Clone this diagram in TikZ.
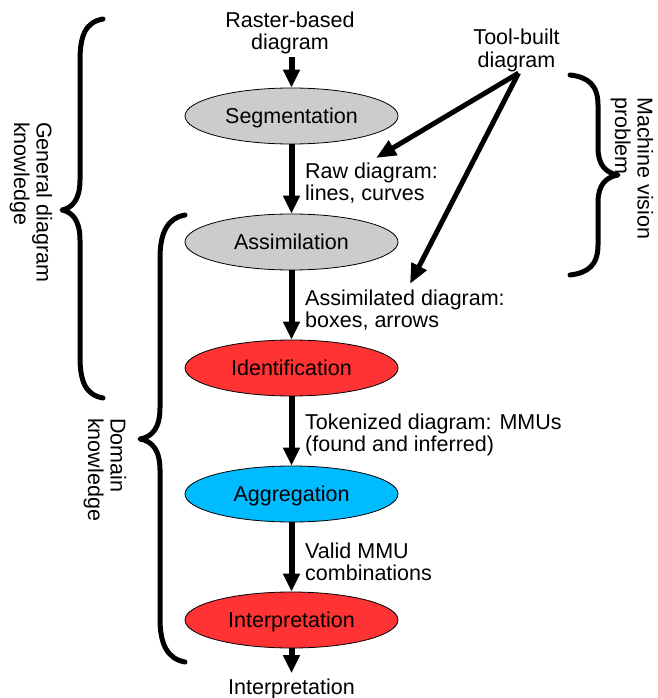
\documentclass[tikz,border=0pt]{standalone}
\usepackage{fontspec}
\setmainfont{Liberation Sans}
\usetikzlibrary{arrows.meta,shapes.geometric}
\definecolor{stagegray}{HTML}{CCCCCC}
\definecolor{stagered}{HTML}{FF3333}
\definecolor{stageblue}{HTML}{00BBFF}

\begin{document}
\begin{tikzpicture}[x=1pt,y=-1pt,
  every node/.style={font=\fontsize{21.5}{22.5}\selectfont, inner sep=0pt},
  stage/.style={ellipse, draw=black, line width=0.8pt,
    minimum width=213pt, minimum height=56pt, text height=15.5pt, text depth=0pt},
  flow/.style={line width=6pt, -{Triangle[width=16pt,length=18pt]}},
  feed/.style={line width=5pt, -{Triangle[width=16pt,length=20pt]}},
  note/.style={align=left, anchor=base west},
  sidelabel/.style={align=left, rotate=-90, anchor=base west},
  bracket/.style={line width=5pt, line cap=round, line join=round}
]
\useasboundingbox (0,0) rectangle (657,698);

% processing stages
\node[stage, fill=stagegray] (seg) at (291.5,116) {Segmentation};
\node[stage, fill=stagegray] (asm) at (291.5,242) {Assimilation};
\node[stage, fill=stagered]  (idf) at (291.5,368) {Identification};
\node[stage, fill=stageblue] (agg) at (291.5,494) {Aggregation};
\node[stage, fill=stagered]  (itp) at (291.5,620) {Interpretation};

% inputs and output (base anchor sits on the last line)
\node[align=center, anchor=base] (raster) at (290,50) {Raster-based\\diagram};
\node[align=center, anchor=base] (tool) at (516.5,67.5) {Tool-built\\diagram};
\node[anchor=base] (out) at (291.5,694) {Interpretation};
\coordinate (outtop) at ([yshift=5pt]out.north);

% intermediate representations
\node[note] (rawlbl) at (305,200.5) {Raw diagram:\\lines, curves};
\node[note] (asmlbl) at (305,327.5) {Assimilated diagram:\\boxes, arrows};
\node[note] (toklbl) at (305,451.5) {Tokenized diagram: MMUs\\(found and inferred)};
\node[note] (vallbl) at (305,580.5) {Valid MMU\\combinations};

% main pipeline
\draw[flow] ([yshift=-2.5pt]seg.north |- raster.south) -- (seg.north);
\draw[flow] (seg) -- (asm);
\draw[flow] (asm) -- (idf);
\draw[flow] (idf) -- (agg);
\draw[flow] (agg) -- (itp);
\draw[flow] (itp) -- (itp.south |- outtop);

% tool-built diagrams enter the pipeline later
\coordinate (rawtip) at (376,158);
\coordinate (asmtip) at (410,284);
\draw[feed] ([xshift=2pt,yshift=-1pt]tool.south) -- (rawtip);
\draw[feed] ([xshift=2pt,yshift=-1pt]tool.south) -- (asmtip);

% knowledge braces
\draw[bracket] (103,19) .. controls (86,22) and (80,35) .. (80,60) -- (80,180)
  .. controls (80,200) and (72,208) .. (62,210)
  .. controls (72,212) and (80,220) .. (80,240) -- (80,357)
  .. controls (80,382) and (86,395) .. (103,398);
\draw[bracket] (185,215) .. controls (168,218) and (160,232) .. (160,258) -- (160,408)
  .. controls (160,428) and (152,437) .. (140,439)
  .. controls (152,441) and (160,450) .. (160,470) -- (160,619)
  .. controls (160,645) and (168,659) .. (185,662);
\draw[bracket] (570,75) .. controls (588,77) and (598,85) .. (598,105) -- (598,148)
  .. controls (598,165) and (606,173) .. (618,175)
  .. controls (606,177) and (598,185) .. (598,202) -- (598,245)
  .. controls (598,265) and (588,273) .. (570,275);

\node[sidelabel] (gen) at (14,122) {General diagram\\knowledge};
\node[sidelabel] (dom) at (88,418) {Domain\\knowledge};
\node[sidelabel] (mvp) at (615,97) {Machine vision\\problem};
\end{tikzpicture}
\end{document}
